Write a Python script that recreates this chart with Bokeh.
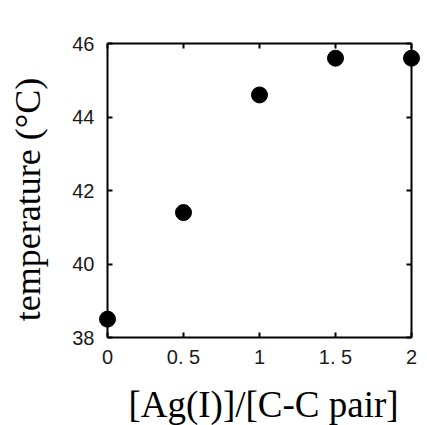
from bokeh.plotting import figure
from bokeh.models import LinearAxis, FixedTicker, Range1d
from bokeh.embed import file_html
from bokeh.resources import INLINE

# Ag(I)/C-C pair ratio vs. melting temperature
ratio = [0.0, 0.5, 1.0, 1.5, 2.0]
temperature = [38.5, 41.4, 44.6, 45.6, 45.6]

x_ticks = [0, 0.5, 1, 1.5, 2]
x_tick_labels = ["0", "0. 5", "1", "1. 5", "2"]
y_ticks = [38, 40, 42, 44, 46]

W, H = 427, 425
# data box placement on the canvas (pixels)
box_left, box_right, box_top, box_bottom = 107, 411, 43, 337
xs = (x_ticks[-1] - x_ticks[0]) / (box_right - box_left)
ys = (y_ticks[-1] - y_ticks[0]) / (box_bottom - box_top)
x_range = Range1d(x_ticks[0] - box_left * xs, x_ticks[-1] + (W - box_right) * xs)
y_range = Range1d(y_ticks[0] - (H - box_bottom) * ys, y_ticks[-1] + box_top * ys)

p = figure(width=W, height=H, output_backend="svg", toolbar_location=None,
           x_range=x_range, y_range=y_range,
           min_border=0, x_axis_location=None, y_axis_location=None)
p.grid.visible = False
p.outline_line_color = None
p.background_fill_color = "white"
p.border_fill_color = "white"

TICK_FONT = "Liberation Sans"
TICK_SIZE = "20px"
TITLE_FONT = "Liberation Serif"


def styled_axis(ticks, loc, bounds, labelled, overrides=None, standoff=10):
    ax = LinearAxis(ticker=FixedTicker(ticks=ticks), fixed_location=loc, bounds=bounds)
    ax.axis_line_color = "black"
    ax.axis_line_width = 2
    ax.major_tick_in = 5
    ax.major_tick_out = 0
    ax.major_tick_line_width = 2
    ax.major_tick_line_color = "black"
    ax.minor_tick_line_color = None
    if labelled:
        ax.major_label_text_font = TICK_FONT
        ax.major_label_text_font_size = TICK_SIZE
        ax.major_label_text_color = "#1a1a1a"
        ax.major_label_standoff = standoff
        if overrides:
            ax.major_label_overrides = overrides
    else:
        ax.major_label_text_font_size = "0px"
        ax.major_label_text_color = None
    return ax


def title_axis(loc, bounds, text, size, label_standoff):
    # carries only the axis title, offset from the data box by label_standoff
    ax = LinearAxis(ticker=FixedTicker(ticks=[]), fixed_location=loc, bounds=bounds)
    ax.axis_line_color = None
    ax.major_tick_line_color = None
    ax.minor_tick_line_color = None
    ax.major_tick_in = 0
    ax.major_tick_out = 0
    ax.major_label_text_color = None
    ax.axis_label = text
    ax.axis_label_text_font = TITLE_FONT
    ax.axis_label_text_font_size = size
    ax.axis_label_text_font_style = "normal"
    ax.axis_label_text_color = "black"
    ax.axis_label_standoff = label_standoff
    return ax


xb = (x_ticks[0], x_ticks[-1])
yb = (y_ticks[0], y_ticks[-1])
x_over = dict(zip(x_ticks, x_tick_labels))

bottom = styled_axis(x_ticks, y_ticks[0], xb, True, x_over, standoff=8)
left = styled_axis(y_ticks, x_ticks[0], yb, True, standoff=13)
top = styled_axis(x_ticks, y_ticks[-1], xb, False)
right = styled_axis(y_ticks, x_ticks[-1], yb, False)

# titles, centred slightly off the axis midpoints
x_shift = 3.5 * xs
y_shift = 9 * ys
x_title = title_axis(y_ticks[0], (xb[0] + x_shift, xb[1] + x_shift),
                     "[Ag(I)]/[C-C pair]", "37px", 46)
y_title = title_axis(x_ticks[0], (yb[0] - y_shift, yb[1] - y_shift),
                     "temperature (°C)", "36px", 60)

p.add_layout(bottom, "below")
p.add_layout(x_title, "below")
p.add_layout(left, "left")
p.add_layout(y_title, "left")
p.add_layout(top, "above")
p.add_layout(right, "right")

p.scatter(ratio, temperature, size=16, color="black")

open("out.html", "w").write(file_html(p, INLINE))
